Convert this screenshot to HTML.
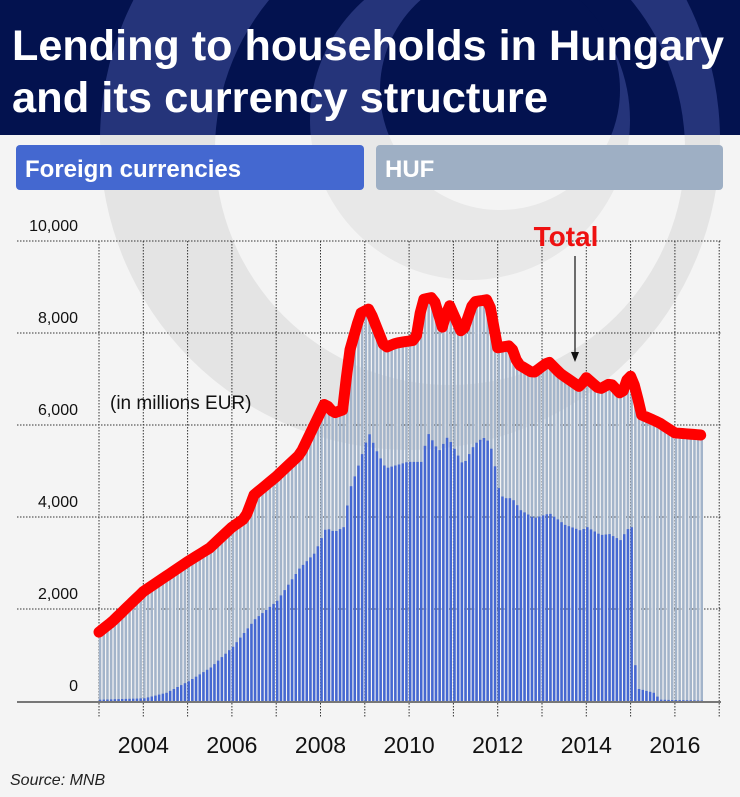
<!DOCTYPE html>
<html><head><meta charset="utf-8"><style>
body{margin:0;width:740px;height:797px;background:#f4f4f4;font-family:"Liberation Sans",sans-serif;overflow:hidden;position:relative}
svg{position:absolute;left:0;top:0}
</style></head><body>
<svg width="740" height="797" viewBox="0 0 740 797" id="s">
<defs><clipPath id="hd"><rect x="0" y="0" width="740" height="135"/></clipPath>
<clipPath id="bd"><rect x="0" y="135" width="740" height="662"/></clipPath></defs>
<rect x="0" y="0" width="740" height="135" fill="#03124f"/>
<g clip-path="url(#bd)">
<circle cx="410" cy="140" r="310" fill="#e4e4e4"/>
<circle cx="450" cy="150" r="235" fill="#f4f4f4"/>
<circle cx="470" cy="120" r="160" fill="#e8e8e8"/>
<circle cx="500" cy="90" r="120" fill="#f4f4f4"/>
</g>
<g clip-path="url(#hd)">
<circle cx="410" cy="140" r="310" fill="#25347a"/>
<circle cx="450" cy="150" r="235" fill="#03124f"/>
<circle cx="470" cy="120" r="160" fill="#25347a"/>
<circle cx="500" cy="90" r="120" fill="#03124f"/>
</g>
<text x="12" y="60" font-size="43" font-weight="bold" fill="#fff" textLength="712" lengthAdjust="spacingAndGlyphs">Lending to households in Hungary</text>
<text x="12" y="112" font-size="43" font-weight="bold" fill="#fff" textLength="536" lengthAdjust="spacingAndGlyphs">and its currency structure</text>
<rect x="16" y="145" width="348" height="45" rx="4" fill="#4468d0"/>
<rect x="376" y="145" width="347" height="45" rx="4" fill="#9eafc4"/>
<text x="25" y="177" font-size="24" font-weight="bold" fill="#fff">Foreign currencies</text>
<text x="385" y="177" font-size="24" font-weight="bold" fill="#fff">HUF</text>
<g id="grid" stroke="#333" stroke-width="1" stroke-dasharray="1.5,1.5"></g>
<g id="bars"></g>
<line x1="17" y1="702" x2="721" y2="702" stroke="#777" stroke-width="2"/>
<g font-size="16" fill="#111" text-anchor="end">
<text x="78" y="231">10,000</text><text x="78" y="323">8,000</text><text x="78" y="415">6,000</text><text x="78" y="507">4,000</text><text x="78" y="599">2,000</text><text x="78" y="691">0</text>
</g>
<text x="110" y="409" font-size="19" fill="#111">(in millions EUR)</text>
<g id="yrs" font-size="23" fill="#111" text-anchor="middle"></g>
<path id="tot" fill="none" stroke="#ff0000" stroke-width="11" stroke-linejoin="round" stroke-linecap="round"/>
<text x="566" y="246" font-size="28" font-weight="bold" fill="#ee1111" text-anchor="middle">Total</text>
<line x1="575" y1="256" x2="575" y2="355" stroke="#111" stroke-width="1.2"/>
<path d="M571,352 L575,362 L579,352 Z" fill="#111"/>
<text x="10" y="785" font-size="16" font-style="italic" fill="#222">Source: MNB</text>
</svg>
<script>
function X(t){return 99+(t-2003)*44.3}
function Y(v){return 702-v*46}
var T=[[2003,1.52],[2003.3,1.75],[2004,2.4],[2005,3.05],[2005.5,3.35],[2006,3.8],[2006.3,4.0],[2006.5,4.5],[2007,4.9],[2007.55,5.4],[2008.1,6.5],[2008.3,6.28],[2008.5,6.35],[2008.65,7.6],[2008.9,8.45],[2009.1,8.55],[2009.45,7.7],[2009.7,7.8],[2010.15,7.87],[2010.3,8.75],[2010.55,8.8],[2010.75,8.15],[2010.9,8.65],[2011.2,8.0],[2011.45,8.7],[2011.8,8.75],[2012.0,7.7],[2012.3,7.75],[2012.45,7.35],[2012.8,7.15],[2013.15,7.4],[2013.4,7.15],[2013.85,6.85],[2014.0,7.05],[2014.3,6.8],[2014.55,6.93],[2014.8,6.67],[2014.97,7.15],[2015.1,6.85],[2015.25,6.24],[2015.65,6.07],[2016.0,5.85],[2016.63,5.8]];
var F=[[2003,0.05],[2004,0.08],[2004.5,0.2],[2005,0.45],[2005.5,0.75],[2006,1.2],[2006.5,1.8],[2007,2.2],[2007.5,2.9],[2007.85,3.24],[2008.1,3.78],[2008.3,3.7],[2008.5,3.8],[2008.65,4.65],[2008.78,4.98],[2008.93,5.43],[2009.07,5.85],[2009.25,5.45],[2009.45,5.08],[2009.7,5.15],[2009.95,5.22],[2010.25,5.22],[2010.4,5.85],[2010.65,5.45],[2010.85,5.77],[2011.2,5.15],[2011.45,5.6],[2011.65,5.75],[2011.8,5.65],[2011.9,5.22],[2012.0,4.65],[2012.1,4.43],[2012.3,4.43],[2012.5,4.17],[2012.8,4.0],[2013.15,4.1],[2013.5,3.85],[2013.85,3.73],[2014.0,3.8],[2014.3,3.63],[2014.5,3.65],[2014.75,3.52],[2014.9,3.75],[2015.0,3.8],[2015.04,2.1],[2015.1,0.3],[2015.5,0.2],[2015.65,0.05],[2016.63,0.03]];
function I(a,t){for(var i=1;i<a.length;i++){if(t<=a[i][0]){var p=a[i-1],q=a[i];return p[1]+(q[1]-p[1])*(t-p[0])/(q[0]-p[0]);}}return a[a.length-1][1];}
var b=document.getElementById("bars"),h="";
for(var m=0;m<=163;m++){var t=2003+m/12,x=X(t)-0.2,tv=I(T,t)-0.08,fv=I(F,t);
h+='<rect x="'+x.toFixed(1)+'" y="'+Y(tv).toFixed(1)+'" width="2.5" height="'+(tv*46).toFixed(1)+'" fill="#a3b4ca"/>';
h+='<rect x="'+x.toFixed(1)+'" y="'+Y(fv).toFixed(1)+'" width="2.5" height="'+(fv*46).toFixed(1)+'" fill="#4568d2"/>';}
b.innerHTML=h;
var g="";[241,333,425,517,609].forEach(function(y){g+='<line x1="17" y1="'+y+'" x2="721" y2="'+y+'"/>';});
for(var k=0;k<=14;k++){var x=X(2003+k);g+='<line x1="'+x+'" y1="241" x2="'+x+'" y2="717"/>';}
document.getElementById("grid").innerHTML=g;
var yy="";for(var k=2004;k<=2016;k+=2){yy+='<text x="'+X(k)+'" y="753">'+k+'</text>';}
document.getElementById("yrs").innerHTML=yy;
var d="";for(var m=0;m<=163;m++){var t=2003+m/12;d+=(m?"L":"M")+X(t).toFixed(1)+","+Y(I(T,t)).toFixed(1);}
document.getElementById("tot").setAttribute("d",d);
</script>
</body></html>
